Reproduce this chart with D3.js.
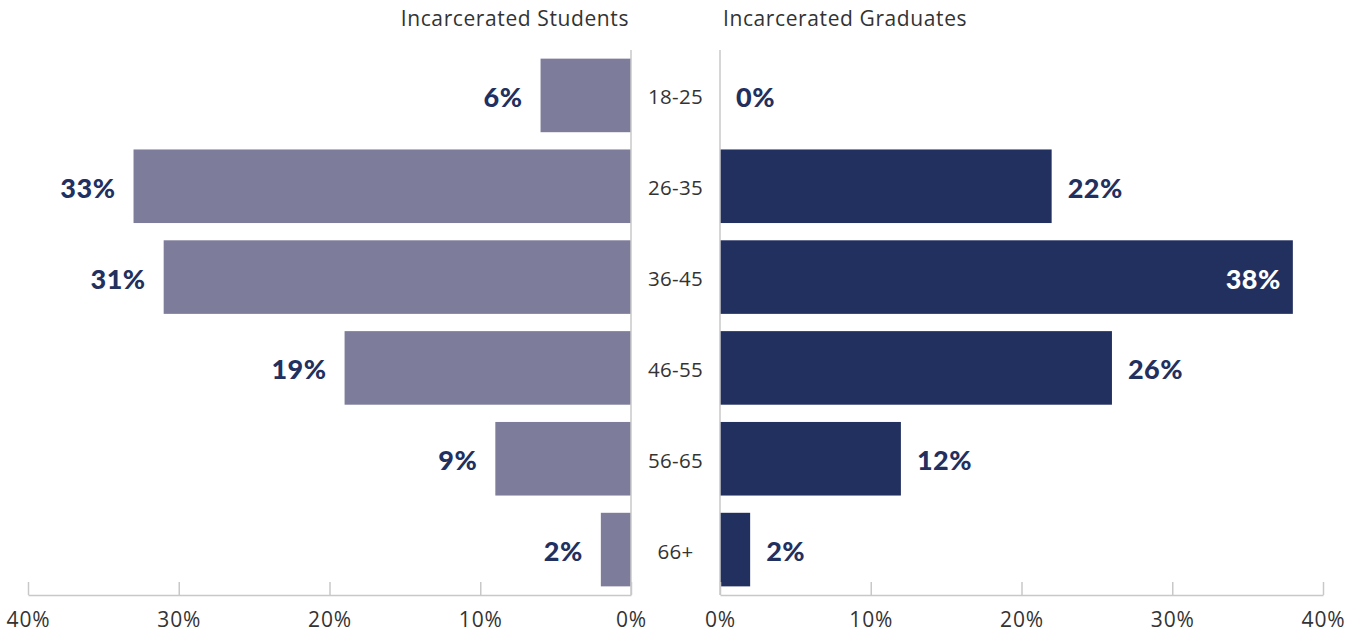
<!DOCTYPE html>
<html>
<head>
<meta charset="utf-8">
<script src="https://cdn.jsdelivr.net/npm/d3@7"></script>
<style>
  html, body { margin: 0; padding: 0; background: #fff; }
  svg { display: block; }
</style>
</head>
<body>
<svg id="chart" width="1354" height="632"></svg>
<script>
// Age distribution of incarcerated students vs. graduates (percent)
const ageGroups = ["18-25", "26-35", "36-45", "46-55", "56-65", "66+"];
const studentShares = [6, 33, 31, 19, 9, 2];
const graduateShares = [0, 22, 38, 26, 12, 2];
const tickValues = [0, 10, 20, 30, 40];
const panelTitles = ["Incarcerated Students", "Incarcerated Graduates"];

const svg = d3.select("#chart");
const font = "'Open Sans', sans-serif";
const labelFont = "Lato, 'Open Sans', sans-serif";
const studentColor = "#7e7c9b";
const graduateColor = "#22305f";
const textColor = "#333333";
const ruleColor = "#c8c8c8";

const plotTop = 50, plotBottom = 595;
const y = d3.scaleBand().domain(ageGroups).range([plotTop, plotBottom])
  .paddingInner(0.19).paddingOuter(0.095);

const xLeft = d3.scaleLinear().domain([0, 40]).range([631, 28]);
const xRight = d3.scaleLinear().domain([0, 40]).range([720, 1323]);

// Bars
svg.append("g").selectAll("rect").data(studentShares).join("rect")
  .attr("x", d => xLeft(d))
  .attr("y", (d, i) => y(ageGroups[i]))
  .attr("width", d => xLeft(0) - xLeft(d))
  .attr("height", y.bandwidth())
  .attr("fill", studentColor);

svg.append("g").selectAll("rect").data(graduateShares).join("rect")
  .attr("x", xRight(0))
  .attr("y", (d, i) => y(ageGroups[i]))
  .attr("width", d => xRight(d) - xRight(0))
  .attr("height", y.bandwidth())
  .attr("fill", graduateColor);

// Vertical baselines
[xLeft(0), xRight(0)].forEach(x => {
  svg.append("line")
    .attr("x1", x).attr("x2", x).attr("y1", plotTop).attr("y2", plotBottom)
    .attr("stroke", ruleColor).attr("stroke-width", 1.5);
});

// Bottom axes with upward ticks
function drawAxis(scale) {
  const g = svg.append("g").attr("transform", `translate(0,${plotBottom})`);
  const axis = d3.axisBottom(scale).tickValues(tickValues)
    .tickFormat(d => d + "%").tickSizeInner(-13).tickSizeOuter(0);
  g.call(axis);
  g.select(".domain").attr("stroke", ruleColor).attr("stroke-width", 1.5);
  g.selectAll(".tick line").attr("stroke", ruleColor).attr("stroke-width", 1.5);
  g.selectAll(".tick text")
    .attr("y", 25)
    .attr("dy", "0.35em")
    .attr("fill", textColor)
    .style("font-family", font)
    .style("font-size", "21px")
    .style("letter-spacing", "0.8px");
}
drawAxis(xLeft);
drawAxis(xRight);

// Category labels in the gutter
svg.append("g").selectAll("text").data(ageGroups).join("text")
  .attr("x", (xLeft(0) + xRight(0)) / 2)
  .attr("y", d => y(d) + y.bandwidth() / 2 + 1)
  .attr("text-anchor", "middle")
  .attr("dominant-baseline", "central")
  .attr("fill", textColor)
  .style("font-family", font)
  .style("font-size", "20.5px")
  .style("letter-spacing", "0.3px")
  .text(d => d);

// Panel titles
svg.append("text")
  .attr("x", 629).attr("y", 26)
  .attr("text-anchor", "end")
  .attr("fill", textColor)
  .style("font-family", font).style("font-size", "21px")
  .style("letter-spacing", "0.6px")
  .text(panelTitles[0]);
svg.append("text")
  .attr("x", 723).attr("y", 26)
  .attr("text-anchor", "start")
  .attr("fill", textColor)
  .style("font-family", font).style("font-size", "21px")
  .style("letter-spacing", "0.6px")
  .text(panelTitles[1]);

// Value labels
svg.append("g").selectAll("text").data(studentShares).join("text")
  .attr("x", d => xLeft(d) - 18)
  .attr("y", (d, i) => y(ageGroups[i]) + y.bandwidth() / 2 + 1)
  .attr("text-anchor", "end")
  .attr("dominant-baseline", "central")
  .attr("fill", graduateColor)
  .style("font-family", labelFont).style("font-weight", "900")
  .style("font-size", "27px")
  .style("letter-spacing", "0.5px")
  .text(d => d + "%");

svg.append("g").selectAll("text").data(graduateShares).join("text")
  .each(function(d, i) {
    const inside = d >= 35;
    d3.select(this)
      .attr("x", inside ? xRight(d) - 12 : xRight(d) + 16)
      .attr("text-anchor", inside ? "end" : "start")
      .attr("fill", inside ? "#ffffff" : graduateColor);
  })
  .attr("y", (d, i) => y(ageGroups[i]) + y.bandwidth() / 2 + 1)
  .attr("dominant-baseline", "central")
  .style("font-family", labelFont).style("font-weight", "900")
  .style("font-size", "27px")
  .style("letter-spacing", "0.5px")
  .text(d => d + "%");
</script>
</body>
</html>
